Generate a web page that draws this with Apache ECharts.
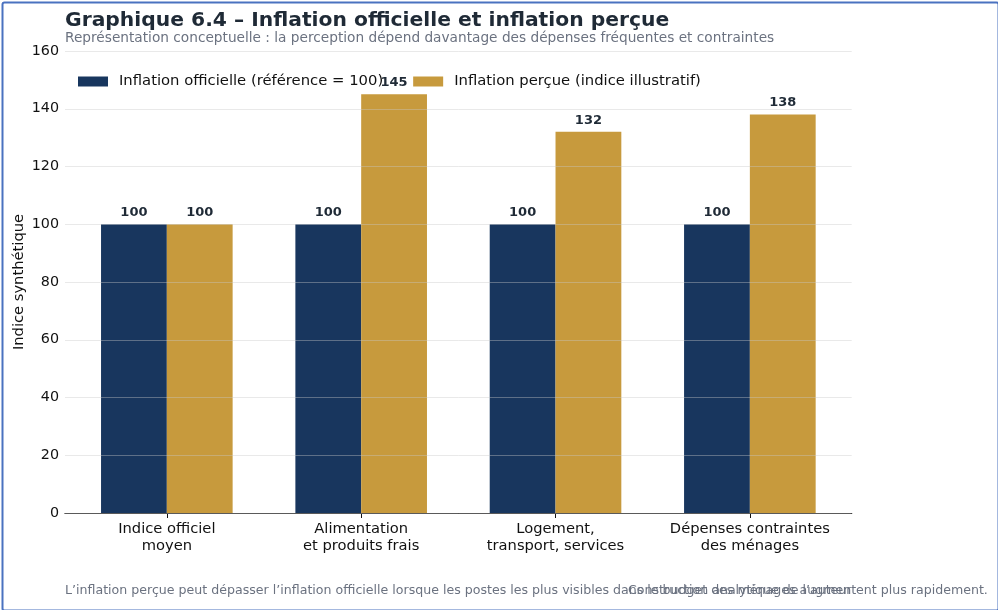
<!DOCTYPE html>
<html><head><meta charset="utf-8">
<script src="https://cdn.jsdelivr.net/npm/echarts@6/dist/echarts.min.js"></script>
<style>html,body{margin:0;padding:0;background:#fff}#c{width:998px;height:610px}</style>
</head><body><div id="c"></div>
<script>
const categories = ['Indice officiel\nmoyen', 'Alimentation\net produits frais', 'Logement,\ntransport, services', 'Dépenses contraintes\ndes ménages'];
const officialValues = [100, 100, 100, 100];
const perceivedValues = [100, 145, 132, 138];
const seriesNames = ['Inflation officielle (référence = 100)', 'Inflation perçue (indice illustratif)'];
const yTicks = {min: 0, max: 160, interval: 20};

const F = 'DejaVu Sans';
const catIdx = categories.map((c, i) => i);
const pad = 0.524;
const chart = echarts.init(document.getElementById('c'), null, {renderer: 'canvas'});
const labelStyle = {show: true, position: 'top', distance: 5, fontFamily: F, fontWeight: 'bold', fontSize: 13, color: '#1f2a36',
  formatter: p => p.value[1]};
chart.setOption({
  animation: false,
  textStyle: {fontFamily: F},
  title: {
    text: 'Graphique 6.4 – Inflation officielle et inflation perçue',
    subtext: 'Représentation conceptuelle : la perception dépend davantage des dépenses fréquentes et contraintes',
    left: 60, top: 6, itemGap: 0,
    textStyle: {fontFamily: F, fontWeight: 'bold', fontSize: 20.3, color: '#1f2a36'},
    subtextStyle: {fontFamily: F, fontSize: 13.7, color: '#6b7280'}
  },
  legend: {
    left: 73, top: 69, itemWidth: 30, itemHeight: 10, itemGap: 30,
    icon: 'rect',
    textStyle: {fontFamily: F, fontSize: 14.8, color: '#111', padding: [0, 0, 0, 6]},
    data: seriesNames
  },
  grid: {left: 65, right: 146.3, top: 51, bottom: 97, containLabel: false, outerBoundsMode: 'none'},
  xAxis: {
    type: 'value', min: -pad, max: categories.length - 1 + pad,
    splitLine: {show: false},
    axisLine: {show: true, onZero: false, lineStyle: {color: '#111', width: 1.2}},
    axisTick: {show: true, customValues: catIdx, length: 5, lineStyle: {color: '#111'}},
    axisLabel: {customValues: catIdx, formatter: v => categories[Math.round(v)],
      fontFamily: F, fontSize: 14.7, color: '#111', lineHeight: 17, margin: 8, showMinLabel: true, showMaxLabel: true}
  },
  yAxis: {
    type: 'value', min: yTicks.min, max: yTicks.max, interval: yTicks.interval,
    z: 10,
    name: 'Indice synthétique', nameLocation: 'middle', nameGap: 38, nameRotate: 90,
    nameMoveOverlap: false,
    nameTextStyle: {fontFamily: F, fontSize: 14.7, color: '#111'},
    axisLine: {show: false}, axisTick: {show: false},
    axisLabel: {fontFamily: F, fontSize: 14.3, color: '#111', margin: 6},
    splitLine: {lineStyle: {color: 'rgba(200,200,200,0.4)', width: 1}}
  },
  series: [
    {name: seriesNames[0], type: 'bar', data: catIdx.map(i => [i, officialValues[i]]), barWidth: 65.8, barGap: '0%',
     itemStyle: {color: '#18365e'}, label: labelStyle},
    {name: seriesNames[1], type: 'bar', data: catIdx.map(i => [i, perceivedValues[i]]), barWidth: 65.8, barGap: '0%',
     itemStyle: {color: '#c79a3d'}, label: labelStyle}
  ],
  graphic: [
    {type: 'rect', left: 0, top: 0, shape: {x: 1, y: 1, width: 996, height: 608, r: 2},
     style: {fill: 'none', stroke: '#4a72c0', lineWidth: 2}, silent: true},
    {type: 'text', left: 65, top: 584,
     style: {text: 'L’inflation perçue peut dépasser l’inflation officielle lorsque les postes les plus visibles dans le budget des ménages augmentent plus rapidement.',
             font: '12.6px "DejaVu Sans"', fill: '#6b7280'}},
    {type: 'text', left: 628, top: 584,
     style: {text: 'Construction analytique de l’auteur',
             font: '12.6px "DejaVu Sans"', fill: '#6b7280'}}
  ]
});
</script></body></html>
